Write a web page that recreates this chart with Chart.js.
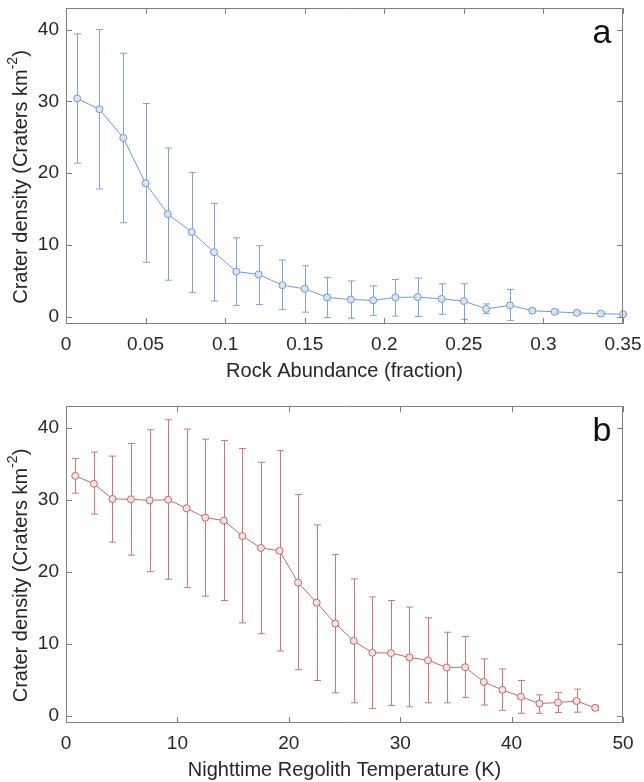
<!DOCTYPE html>
<html>
<head>
<meta charset="utf-8">
<script src="https://cdn.jsdelivr.net/npm/chart.js@4/dist/chart.umd.min.js"></script>
<style>
body { margin: 0; background: #fff; }
.panel { width: 644px; height: 391px; }
</style>
</head>
<body>
<div class="panel"><canvas id="chartA" width="644" height="391"></canvas></div>
<div class="panel"><canvas id="chartB" width="644" height="391"></canvas></div>
<script>
// panel a: rock abundance
var rockX = [0.007, 0.021, 0.036, 0.050, 0.064, 0.079, 0.093, 0.107, 0.121, 0.136, 0.150, 0.164, 0.179,
    0.193, 0.207, 0.221, 0.236, 0.250, 0.264, 0.279, 0.293, 0.307, 0.321, 0.336, 0.350];
var rockMean = [30.4, 28.9, 24.9, 18.6, 14.3, 11.8, 9.0, 6.3, 5.9, 4.4, 3.9, 2.7, 2.4,
    2.3, 2.7, 2.75, 2.5, 2.2, 1.1, 1.6, 0.85, 0.7, 0.55, 0.45, 0.35];
var rockUpper = [39.4, 40.0, 36.7, 29.7, 23.5, 20.1, 15.8, 11.0, 9.9, 7.9, 7.1, 5.5, 5.0,
    4.3, 5.2, 5.4, 4.6, 4.6, 1.8, 3.8, 1.1, 0.95, 0.8, 0.65, 0.5];
var rockLower = [21.4, 17.8, 13.1, 7.6, 5.1, 3.4, 2.2, 1.6, 1.7, 1.0, 0.65, -0.1, -0.2,
    0.2, 0.1, 0.05, 0.35, -0.35, 0.45, -0.5, 0.6, 0.45, 0.3, 0.3, 0.2];
var rockXTicks = [0, 0.05, 0.1, 0.15, 0.2, 0.25, 0.3, 0.35];

// panel b: nighttime regolith temperature
var tempX = [0.83, 2.5, 4.17, 5.83, 7.5, 9.17, 10.83, 12.5, 14.17, 15.83, 17.5, 19.17, 20.83, 22.5,
    24.17, 25.83, 27.5, 29.17, 30.83, 32.5, 34.17, 35.83, 37.5, 39.17, 40.83, 42.5, 44.17, 45.83, 47.5];
var tempMean = [33.3, 32.2, 30.1, 30.05, 29.9, 30.0, 28.8, 27.5, 27.1, 24.95, 23.3, 22.9, 18.5, 15.7,
    12.8, 10.4, 8.75, 8.7, 8.1, 7.7, 6.7, 6.75, 4.7, 3.6, 2.65, 1.7, 1.85, 2.05, 1.1];
var tempUpper = [35.7, 36.6, 36.05, 37.8, 39.7, 41.1, 39.8, 38.4, 38.2, 37.1, 35.2, 36.8, 30.7, 26.5,
    22.4, 19.0, 16.5, 16.0, 15.1, 13.6, 11.6, 11.0, 7.9, 6.5, 4.9, 2.9, 3.25, 3.7, 1.45];
var tempLower = [30.9, 28.0, 24.1, 22.3, 20.0, 18.95, 17.8, 16.6, 16.0, 12.9, 11.4, 9.0, 6.4, 4.9,
    3.2, 1.8, 1.0, 1.45, 1.25, 1.8, 1.8, 2.55, 1.5, 0.75, 0.35, 0.35, 0.45, 0.5, 0.75];
var tempXTicks = [0, 10, 20, 30, 40, 50];

var yTicks = [0, 10, 20, 30, 40];

var FONT = "'Liberation Sans', Arial, sans-serif";
var TEXT = "#262626";
var AXIS = "#7f7f7f";

var matlabAxes = {
    id: "matlabAxes",
    beforeDatasetsDraw: function(chart, args, opts) {
        var ctx = chart.ctx;
        var xs = chart.scales.x, ys = chart.scales.y;
        var ds = chart.data.datasets[0];
        ctx.save();
        ctx.strokeStyle = opts.barColor;
        ctx.lineWidth = 1;
        for (var i = 0; i < opts.upper.length; i++) {
            var px = Math.round(xs.getPixelForValue(ds.data[i].x)) + 0.5;
            var top = ys.getPixelForValue(opts.upper[i]);
            var bot = ys.getPixelForValue(opts.lower[i]);
            ctx.beginPath();
            ctx.moveTo(px, top); ctx.lineTo(px, bot);
            ctx.moveTo(px - 3.5, top); ctx.lineTo(px + 3.5, top);
            ctx.moveTo(px - 3.5, bot); ctx.lineTo(px + 3.5, bot);
            ctx.stroke();
        }
        ctx.restore();
    },
    afterDraw: function(chart, args, opts) {
        var ctx = chart.ctx;
        var a = chart.chartArea;
        var xs = chart.scales.x, ys = chart.scales.y;
        ctx.save();
        ctx.strokeStyle = AXIS;
        ctx.lineWidth = 1;
        ctx.beginPath();
        ctx.rect(a.left + 0.5, a.top + 0.5, a.right - a.left - 1, a.bottom - a.top - 1);
        ctx.stroke();
        ctx.beginPath();
        xs.ticks.forEach(function(t) {
            var px = Math.round(xs.getPixelForValue(t.value)) + 0.5;
            ctx.moveTo(px, a.bottom); ctx.lineTo(px, a.bottom - 6);
            ctx.moveTo(px, a.top); ctx.lineTo(px, a.top + 6);
        });
        ys.ticks.forEach(function(t) {
            var py = Math.round(ys.getPixelForValue(t.value)) + 0.5;
            ctx.moveTo(a.left, py); ctx.lineTo(a.left + 6, py);
            ctx.moveTo(a.right, py); ctx.lineTo(a.right - 6, py);
        });
        ctx.stroke();

        // panel letter
        ctx.fillStyle = "#111";
        ctx.font = "34px " + FONT;
        ctx.textAlign = "center";
        ctx.textBaseline = "alphabetic";
        ctx.fillText(opts.letter, a.right - 21, a.top + 35);

        // y axis title with superscript
        var main = "Crater density (Craters km";
        var sup = "-2";
        var end = ")";
        ctx.fillStyle = TEXT;
        ctx.font = "20px " + FONT;
        var w1 = ctx.measureText(main).width;
        var w3 = ctx.measureText(end).width;
        ctx.font = "14px " + FONT;
        var w2 = ctx.measureText(sup).width;
        var total = w1 + w2 + w3;
        ctx.translate(21, (a.top + a.bottom) / 2 + 11);
        ctx.rotate(-Math.PI / 2);
        ctx.textAlign = "left";
        ctx.textBaseline = "middle";
        var sx = -total / 2;
        ctx.font = "20px " + FONT;
        ctx.fillText(main, sx, 0);
        ctx.font = "14px " + FONT;
        ctx.fillText(sup, sx + w1, -8);
        ctx.font = "20px " + FONT;
        ctx.fillText(end, sx + w1 + w2, 0);
        ctx.restore();
    }
};

function makeChart(id, xs, mean, upper, lower, xTicks, xMax, xTitle, color, fill, barColor, letter, padTop, padBottom) {
    var points = xs.map(function(x, i) { return { x: x, y: mean[i] }; });
    return new Chart(document.getElementById(id), {
        type: "scatter",
        data: {
            datasets: [{
                data: points,
                showLine: true,
                borderColor: color,
                borderWidth: 1,
                pointRadius: 3.5,
                pointBorderWidth: 1,
                pointBackgroundColor: fill,
                pointBorderColor: color,
                clip: false
            }]
        },
        options: {
            responsive: false,
            animation: false,
            layout: { padding: { left: 0, right: 21, top: padTop, bottom: padBottom } },
            plugins: {
                legend: { display: false },
                tooltip: { enabled: false },
                matlabAxes: { upper: upper, lower: lower, barColor: barColor, letter: letter }
            },
            scales: {
                x: {
                    type: "linear",
                    min: 0,
                    max: xMax,
                    afterBuildTicks: function(s) { s.ticks = xTicks.map(function(v) { return { value: v }; }); },
                    afterFit: function(s) { s.height = 59; s.paddingLeft = 0; s.paddingRight = 0; },
                    grid: { display: false, drawTicks: false },
                    border: { display: false },
                    ticks: {
                        padding: 9,
                        color: TEXT,
                        font: { family: FONT, size: 19 },
                        callback: function(v) { return String(Number(v.toFixed(2))); }
                    },
                    title: {
                        display: true,
                        text: xTitle,
                        color: TEXT,
                        font: { family: FONT, size: 20 },
                        padding: { top: 4, bottom: 0 }
                    }
                },
                y: {
                    type: "linear",
                    min: -1,
                    max: 43,
                    afterBuildTicks: function(s) { s.ticks = yTicks.map(function(v) { return { value: v }; }); },
                    afterFit: function(s) { s.width = 66; s.paddingTop = 0; s.paddingBottom = 0; },
                    grid: { display: false, drawTicks: false },
                    border: { display: false },
                    ticks: {
                        padding: 7,
                        color: TEXT,
                        font: { family: FONT, size: 19 }
                    }
                }
            }
        },
        plugins: [matlabAxes]
    });
}

makeChart("chartA", rockX, rockMean, rockUpper, rockLower, rockXTicks, 0.35,
    "Rock Abundance (fraction)", "#7399d9", "#d9e3f6", "#7ea3df", "a", 8, 8);
makeChart("chartB", tempX, tempMean, tempUpper, tempLower, tempXTicks, 50,
    "Nighttime Regolith Temperature (K)", "#c96868", "#fbe2e2", "#d07878", "b", 15, 0);
</script>
</body>
</html>
